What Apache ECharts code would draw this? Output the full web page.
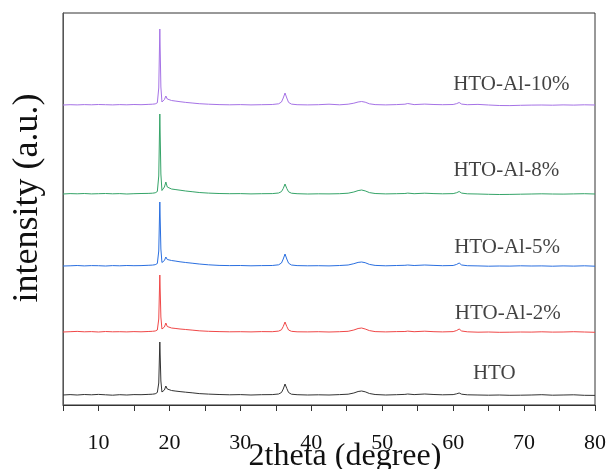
<!DOCTYPE html>
<html>
<head>
<meta charset="utf-8">
<script src="https://cdn.jsdelivr.net/npm/echarts@6/dist/echarts.min.js"></script>
<style>html,body{margin:0;padding:0;background:#fff}#c{width:609px;height:469px}</style>
</head>
<body>
<div id="c"></div>
<script>
// 2theta sampling positions (degree)
const twoTheta = [5,6,7,8,9,10,11,12,13,14,15,16,17,
  17.6,18.0,18.3,18.5,18.65,18.8,18.95,19.1,19.3,19.5,19.7,19.95,
  20.3,20.8,21.5,22.3,23.2,24.2,25.5,27,28.5,30,31.5,33,34.5,
  35.4,35.8,36.05,36.3,36.55,36.8,37.2,
  38,39.5,41,42.5,44,
  45.2,46,46.6,47.1,47.6,48.2,49,
  50.5,52,53.2,53.6,54.5,56,57.3,58.5,
  60,60.5,60.85,61.2,
  62,63.5,65,66.5,68,69.5,71,72.5,74,75.5,77,78.5,80];

const seriesNames = ['HTO','HTO-Al-2%','HTO-Al-5%','HTO-Al-8%','HTO-Al-10%'];
// vertical stacking offsets (a.u.)
const offsets = [10, 73, 139, 211, 300];

const hto = [0,0.4,0,0.5,0.2,0.6,0.2,-0.2,0.3,0,0.4,0.3,0.6,
  0.8,1.2,2.5,12,53,14,3,2,5,9,6,5,
  4.5,4,3.4,2.8,2.2,1.4,0.9,0.5,0.2,0.4,0,0.3,0.4,
  1,2.5,6,11,6.5,2.5,0.8,
  0.3,0,0.2,0,0.4,
  0.8,2,3.5,4,3.2,1.5,0.5,
  0,0.3,0.6,1,0.4,1,0.5,0.2,
  0.4,1.2,2,0.8,
  0.2,0,-0.2,0,-0.3,-0.2,0,0.3,-0.2,0,0.2,-0.3,-0.4];

const al2 = [0,0.3,0.6,0.2,0.4,0,0.5,0.2,0.3,0.1,0.4,0.2,0.5,
  0.7,1,2,13,57,15,3,2,5,9,5.5,4.5,
  4,3.6,3,2.5,1.9,1.2,0.7,0.4,0.2,0.3,0.1,0.4,0.3,
  0.9,2.2,5.5,10,5.5,2,0.7,
  0.2,0.1,0.3,0,0.3,
  0.7,2,3.5,4,3,1.4,0.4,
  0.1,0.4,0.5,0.9,0.3,0.8,0.3,0.1,
  0.4,1.5,3,1,
  0.2,-0.2,0,-0.3,-0.2,0,-0.1,0.2,-0.1,0,0.3,0,-0.3];

const al5 = [0,0.2,0.5,0.1,0.4,0.3,0,0.4,0.2,0.5,0.3,0.4,0.7,
  0.9,1.3,2.5,15,64,17,3.5,2.5,5.5,9,6.5,6,
  5.5,5,4.2,3.5,2.8,2,1.2,0.6,0.4,0.5,0.2,0.4,0.5,
  1.2,3,7,12,7,2.8,1,
  0.4,0.2,0.3,0.1,0.5,
  1,2.3,3.6,4,3.3,1.6,0.6,
  0.2,0.5,0.7,1,0.5,1,0.6,0.3,
  0.5,1.6,3,1,
  0.3,0.1,-0.2,0,-0.1,0.2,0,0.1,-0.2,0.1,-0.1,0.2,-0.2];

const al8 = [0,0.4,0.2,0.5,0.1,0.3,0.5,0.2,0.4,0,0.3,0.5,0.6,
  0.8,1.2,2.5,18,80,20,3.5,2.5,7,12,7,5.5,
  5,4.5,3.8,3,2.3,1.5,0.9,0.5,0.3,0.4,0.1,0.3,0.4,
  1,2.4,5.5,10,5.5,2.2,0.8,
  0.3,0,0.2,0.1,0.3,
  0.8,2,3.4,4,3.1,1.4,0.5,
  0.1,0.3,0.5,0.9,0.3,0.8,0.4,0.2,
  0.4,1.3,2.5,0.9,
  0.2,0,-0.3,-0.5,-0.4,-0.2,0,0.2,0,-0.1,0.1,0.3,0];

const al10 = [0,0.3,0.1,0.4,0.2,0.5,0.3,0.1,0.4,0.2,0.5,0.3,0.6,
  0.8,1.1,2.2,17,76,18,3,2,5.5,9,6,5,
  4.5,4,3.3,2.6,2,1.3,0.8,0.4,0.2,0.4,0.1,0.3,0.5,
  1.2,3,7,12,7,2.6,0.9,
  0.3,0.1,0.3,0.8,0.2,
  0.8,1.8,3,3.5,2.8,1.2,0.4,
  0.1,0.4,0.8,1.5,0.4,0.9,0.5,0.3,
  0.5,1.4,2.5,0.9,
  0.3,0.6,0,-0.5,-0.6,-0.3,-0.1,0,-0.2,0.1,-0.1,0.2,0];

const patterns = [hto, al2, al5, al8, al10];
const colors = ['#333333','#f04848','#2a6fe0','#35a468','#a673e6'];
// label anchor positions in data units [2theta, intensity]
const labelPos = [[65.8,32],[67.7,92],[67.6,158],[67.5,235],[68.2,321]];

const xTicks = [10,20,30,40,50,60,70,80];

const chart = echarts.init(document.getElementById('c'), null, {renderer:'canvas'});
const FONT = '"Liberation Serif","Times New Roman",serif';

const series = patterns.map((p, i) => ({
  type: 'line',
  name: seriesNames[i],
  data: twoTheta.map((x, j) => [x, p[j] + offsets[i]]),
  showSymbol: false,
  symbol: 'none',
  lineStyle: { color: colors[i], width: 1 },
  itemStyle: { color: colors[i] },
  animation: false,
  z: 2
}));

series.push({
  type: 'scatter',
  data: labelPos.map((p, i) => ({ value: p, name: seriesNames[i] })),
  symbolSize: 0,
  silent: true,
  animation: false,
  label: {
    show: true,
    position: 'inside',
    formatter: d => d.name,
    fontFamily: FONT,
    fontSize: 21,
    color: '#111'
  }
});

chart.setOption({
  backgroundColor: '#fff',
  animation: false,
  grid: { left: 63, right: 12, top: 13, bottom: 64, show: true, borderColor: '#333', borderWidth: 1 },
  xAxis: {
    type: 'value',
    min: 5, max: 80, interval: 5,
    axisLine: { show: true, lineStyle: { color: '#333', width: 1 } },
    axisTick: { show: true, inside: false, length: 6, lineStyle: { color: '#333' } },
    splitLine: { show: false },
    axisLabel: {
      margin: 27,
      fontFamily: FONT, fontSize: 22, color: '#111',
      formatter: v => (xTicks.indexOf(v) >= 0 ? String(v) : '')
    }
  },
  yAxis: {
    type: 'value',
    min: 0, max: 392,
    axisLine: { show: true, lineStyle: { color: '#555', width: 1 } },
    axisTick: { show: false },
    axisLabel: { show: false },
    splitLine: { show: false }
  },
  graphic: [
    { type: 'text', x: 345, y: 457,
      style: { text: '2theta (degree)', font: '32px ' + FONT, fill: '#111', textAlign: 'center', textVerticalAlign: 'middle' } },
    { type: 'text', x: 28, y: 198, rotation: Math.PI / 2,
      style: { text: 'intensity (a.u.)', font: '36px ' + FONT, fill: '#111', textAlign: 'center', textVerticalAlign: 'middle' } }
  ],
  series: series
});
</script>
</body>
</html>
